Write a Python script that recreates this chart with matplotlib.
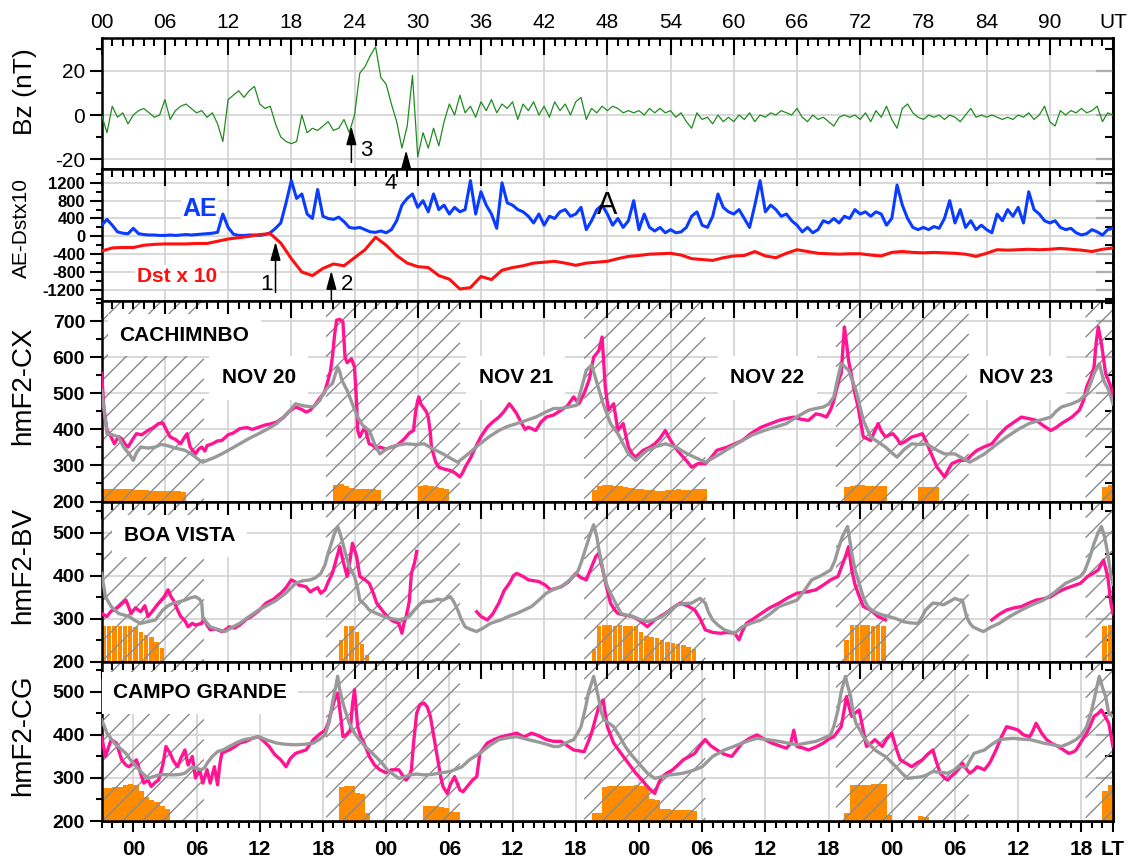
import numpy as np
import matplotlib
matplotlib.use("Agg")
import matplotlib.pyplot as plt
from matplotlib.ticker import MultipleLocator
from matplotlib.collections import LineCollection

plt.rcParams['font.family'] = ['Liberation Sans', 'DejaVu Sans']

# ---------------- data (UT hours, 20-24 Nov) ----------------
ut_half = np.arange(0, 96.5, 0.5)
ut_hour = np.arange(0, 97, 1)

bz = [0, -8, 4, -1, 1, -4, 0, 2, 3, 1, -1, 0,
      7, -2, 2, 4, 5, 3, 1, 2, -1, 1, -4, -12,
      7, 9, 11, 8, 11, 13, 5, 3, 4, -4, -10, -12,
      -13, -12, 0, -8, -6, -7, -5, -3, -7, -6, -2, -8,
      0, 19, 22, 27, 31, 17, 14, 5, -3, -15, -5, 18,
      -19, -8, -15, -6, -14, -3, 5, 0, 9, 1, 4, -1,
      6, 2, 7, 1, 5, 3, 6, -2, 5, 2, 6, 0,
      4, -1, 6, 2, 5, 0, 6, 8, -2, 3, 1, 4,
      2, 4, 3, 1, 2, 1, 2, 0, 3, 1, 3, 1,
      2, -1, 1, -3, -6, 1, -2, -1, -4, 0, -3, -1,
      -3, 0, -2, 1, -3, 0, -1, 1, 0, 2, 1, 0,
      3, -1, -3, 0, -2, -1, -3, -5, -1, 0, -1, 0,
      -2, 1, -3, 2, -1, 4, -2, -6, 3, 5, 1, -1,
      -2, 0, -1, 0, -2, 0, -1, -3, 0, 3, -1, 0,
      -1, 0, -1, -2, -1, -2, 0, -1, 1, -2, 0, 4,
      -3, -5, 2, 0, 2, 1, 3, 1, 2, 4, -3, 1,
      0]

ae = [250, 380, 250, 100, 70, 60, 180, 60, 40, 30, 30, 20,
      20, 30, 20, 30, 40, 30, 40, 50, 60, 70, 90, 500,
      200, 50, 20, 20, 30, 30, 20, 40, 80, 180, 300, 750,
      1250, 850, 950, 500, 400, 1050, 450, 400, 380, 430, 330, 200,
      180, 200, 150, 100, 90, 120, 80, 150, 350, 700, 850, 950,
      650, 800, 550, 950, 600, 700, 500, 650, 550, 600, 1250, 500,
      1000, 700, 500, 180, 1200, 750, 700, 600, 550, 450, 300, 500,
      250, 450, 400, 550, 600, 450, 500, 650, 150, 350, 600, 700,
      500, 250, 400, 200, 350, 800, 150, 500, 200, 120, 200, 80,
      150, 80, 100, 200, 450, 550, 250, 200, 450, 950, 650, 550,
      500, 600, 400, 200, 700, 1250, 550, 700, 600, 450, 500, 350,
      250, 100, 200, 80, 150, 350, 300, 400, 300, 450, 400, 600,
      500, 550, 450, 550, 500, 250, 400, 1150, 700, 400, 200, 150,
      200, 150, 220, 180, 400, 800, 300, 600, 200, 350, 150, 250,
      150, 80, 500, 350, 600, 450, 650, 300, 1000, 600, 500, 350,
      300, 350, 200, 150, 180, 80, 30, 60, 150, 100, 30, 150,
      180]

dst10 = [-330, -260, -250, -250, -200, -180, -170, -170, -170, -160, -160, -110,
         -60, -30, 0, 40, 60, -150, -500, -800, -880, -720, -620, -660,
         -480, -300, -20, -200, -430, -600, -680, -700, -880, -960, -1180, -1150,
         -900, -970, -760, -700, -660, -600, -580, -560, -600, -650, -600, -580,
         -560, -500, -450, -430, -400, -390, -380, -420, -500, -520, -540, -480,
         -440, -430, -340, -440, -480, -380, -300, -340, -380, -390, -400, -390,
         -390, -420, -440, -360, -340, -360, -370, -360, -370, -380, -400, -450,
         -380, -300, -310, -300, -290, -300, -290, -270, -290, -310, -340, -290,
         -260]

cx_obs = [(0, 555), (0.2, 462), (0.5, 397), (0.9, 379), (1.2, 360), (1.6, 380), (1.9, 374),
          (2.2, 360), (2.5, 351), (3.0, 375), (3.3, 388), (3.8, 385), (4.4, 397), (4.9, 405),
          (5.4, 416), (5.8, 418), (6.2, 395), (6.5, 379), (7.0, 372), (7.5, 360), (7.8, 375),
          (8.1, 388), (8.4, 351), (8.9, 332), (9.2, 345), (9.5, 351), (9.8, 340), (10.0, 355),
          (10.5, 360), (11.0, 368), (11.4, 369), (12.0, 385), (12.5, 390), (13.1, 402),
          (13.8, 405), (14.3, 400), (14.9, 406), (15.5, 412), (16.0, 415), (16.6, 420),
          (17.2, 432), (17.8, 450), (18.4, 462), (19.0, 455), (19.4, 448), (19.8, 453),
          (20.3, 470), (20.8, 490), (21.1, 500), (21.4, 527), (21.7, 560), (21.9, 600),
          (22.1, 660), (22.3, 703), (22.6, 705), (22.9, 698), (23.1, 600), (23.3, 585),
          (23.5, 590), (23.7, 596), (24.0, 573), (24.2, 470), (24.3, 397), (24.5, 379),
          (24.7, 392), (25.0, 406), (25.2, 380), (25.4, 360), (25.8, 355), (26.1, 345),
          (26.4, 351), (27.0, 345), (27.5, 351), (28.0, 355), (28.2, 360), (28.6, 370),
          (28.9, 379), (29.2, 390), (29.6, 397), (29.8, 450), (30.0, 480), (30.1, 490),
          (30.3, 470), (30.5, 462), (30.8, 450), (31.0, 434), (31.2, 390), (31.3, 351),
          (31.7, 310), (32.0, 295), (32.5, 290), (33.1, 286), (33.5, 280), (34.0, 268),
          (34.3, 282), (34.5, 295), (35.0, 320), (35.5, 351), (36.0, 380), (36.6, 406),
          (37.1, 420), (37.7, 434), (38.2, 450), (38.7, 471), (39.0, 460), (39.4, 443),
          (39.8, 420), (40.2, 400), (40.5, 406), (41.2, 397), (41.7, 420), (42.2, 434),
          (42.9, 440), (43.6, 453), (44.2, 465), (44.8, 490), (45.3, 471), (45.8, 500),
          (46.3, 540), (46.7, 600), (47.2, 619), (47.5, 656), (47.8, 518), (48.1, 453),
          (48.6, 471), (49.0, 397), (49.5, 416), (50.0, 351), (50.4, 330), (50.7, 323),
          (51.4, 342), (52.0, 350), (52.5, 360), (53.0, 375), (53.5, 397), (53.8, 380),
          (54.2, 360), (54.7, 340), (55.2, 323), (55.6, 310), (56.0, 295), (56.6, 305),
          (57.3, 305), (57.8, 320), (58.4, 342), (59.4, 351), (60.1, 360), (60.8, 369),
          (61.7, 390), (62.6, 406), (63.4, 415), (64.3, 425), (65.0, 430), (65.7, 434),
          (66.4, 428), (67.1, 425), (67.8, 443), (68.3, 440), (68.8, 434), (69.2, 455),
          (69.5, 480), (70.0, 540), (70.2, 555), (70.5, 684), (70.7, 640), (70.9, 591),
          (71.2, 545), (71.5, 500), (71.8, 462), (72.3, 379), (72.6, 375), (73.0, 369),
          (73.3, 390), (73.7, 416), (74.0, 395), (74.4, 379), (74.8, 385), (75.1, 388),
          (75.5, 375), (75.8, 360), (76.2, 365), (76.9, 379), (77.4, 383), (77.9, 388),
          (78.3, 365), (78.6, 342), (79.0, 315), (79.3, 295), (79.7, 280), (80.0, 268),
          (80.3, 285), (80.7, 305), (81.4, 314), (82.1, 314), (82.6, 330), (83.1, 342),
          (83.8, 352), (84.5, 360), (85.2, 385), (85.9, 406), (86.6, 420), (87.3, 434),
          (88.0, 430), (88.7, 425), (89.4, 410), (90.1, 397), (90.6, 405), (91.1, 416),
          (91.6, 425), (92.1, 434), (92.8, 453), (93.2, 480), (93.5, 518), (93.9, 545),
          (94.2, 573), (94.4, 640), (94.6, 684), (94.9, 638), (95.3, 555), (95.8, 518),
          (96.0, 480)]

cx_ref = [(0, 508), (0.2, 462), (0.5, 388), (1.0, 385), (1.6, 379), (2.1, 350), (2.6, 332),
          (3.0, 314), (3.3, 335), (3.7, 351), (4.4, 348), (5.1, 351), (5.6, 358), (6.1, 356),
          (7.0, 348), (7.9, 342), (8.6, 330), (9.3, 314), (9.6, 309), (10.0, 314), (10.7, 322),
          (11.4, 332), (12.2, 345), (13.1, 360), (14.0, 375), (14.9, 388), (15.8, 402),
          (16.6, 416), (17.5, 440), (18.4, 471), (19.2, 465), (20.1, 462), (20.7, 480),
          (21.2, 508), (21.6, 520), (21.9, 527), (22.2, 555), (22.4, 573), (22.6, 560),
          (22.8, 536), (23.3, 508), (23.8, 470), (24.3, 434), (24.8, 410), (25.4, 397),
          (25.9, 360), (26.4, 332), (27.0, 345), (27.5, 351), (28.2, 357), (28.9, 360),
          (29.8, 358), (30.6, 360), (31.5, 345), (32.4, 332), (33.1, 320), (33.8, 309),
          (34.5, 325), (35.2, 342), (35.9, 360), (36.8, 380), (37.7, 397), (38.5, 408),
          (39.4, 416), (40.3, 425), (41.2, 434), (42.0, 446), (42.9, 458), (43.6, 458),
          (44.3, 462), (45.1, 467), (45.6, 520), (46.0, 564), (46.5, 578), (46.9, 540),
          (47.3, 500), (47.6, 471), (48.3, 416), (49.0, 388), (49.5, 360), (50.0, 332),
          (50.7, 314), (51.3, 330), (51.8, 342), (52.6, 352), (53.5, 360), (54.5, 351),
          (55.6, 332), (56.5, 320), (57.3, 309), (58.0, 320), (58.7, 332), (59.7, 350),
          (60.8, 369), (61.8, 385), (62.9, 397), (64.0, 407), (65.0, 416), (66.0, 435),
          (67.1, 453), (67.8, 458), (68.5, 462), (69.0, 470), (69.5, 490), (69.9, 545),
          (70.2, 582), (70.5, 575), (70.9, 564), (71.2, 540), (71.6, 508), (72.0, 460),
          (72.3, 425), (73.0, 379), (73.7, 365), (74.4, 351), (75.0, 335), (75.5, 323),
          (76.2, 345), (76.9, 360), (77.6, 358), (78.3, 360), (79.1, 345), (80.0, 332),
          (81.0, 332), (81.7, 320), (82.4, 309), (83.1, 320), (83.8, 332), (84.8, 355),
          (85.9, 379), (87.0, 400), (88.0, 416), (89.0, 425), (90.1, 434), (90.6, 450),
          (91.1, 462), (92.0, 470), (92.8, 480), (93.5, 499), (93.9, 530), (94.2, 555),
          (94.7, 582), (95.1, 536), (95.6, 508), (96.0, 471)]

nan = float('nan')
bv_obs = [(0, 312), (0.5, 305), (0.9, 318), (1.2, 320), (1.7, 330), (2.3, 343), (2.8, 312),
          (3.2, 325), (3.7, 316), (4.1, 330), (4.4, 305), (4.9, 320), (5.4, 336), (5.9, 350),
          (6.3, 367), (6.6, 350), (6.8, 343), (7.2, 320), (7.5, 305), (7.9, 295), (8.2, 281),
          (8.6, 289), (8.9, 285), (9.5, 289), (9.7, 300), (10.0, 285), (10.3, 274), (10.8, 276),
          (11.4, 270), (11.8, 275), (12.1, 281), (12.6, 278), (13.1, 285), (13.7, 298),
          (14.2, 305), (14.9, 318), (15.6, 336), (16.3, 345), (17.0, 359), (17.5, 372),
          (18.0, 390), (18.4, 385), (18.7, 378), (19.4, 374), (19.8, 362), (20.1, 367),
          (20.5, 372), (20.8, 359), (21.2, 367), (21.5, 385), (21.9, 405), (22.3, 440),
          (22.6, 467), (22.9, 435), (23.3, 398), (23.6, 440), (23.8, 475), (24.0, 460),
          (24.2, 444), (24.5, 398), (25.0, 390), (25.4, 382), (25.8, 358), (26.1, 336),
          (26.6, 320), (27.1, 305), (27.6, 295), (28.2, 289), (28.5, 266), (28.7, 290),
          (28.9, 305), (29.2, 340), (29.4, 405), (29.7, 430), (29.9, 456), (29.95, nan),
          (35.6, 316), (36.0, 305), (36.6, 297), (37.1, 310), (37.7, 336), (38.2, 365),
          (38.7, 382), (39.1, 400), (39.4, 405), (40.0, 398), (40.5, 390), (41.0, 388),
          (41.5, 386), (42.1, 378), (42.6, 367), (43.1, 370), (43.6, 374), (44.3, 385),
          (45.0, 405), (45.5, 395), (46.0, 390), (46.5, 420), (46.9, 444), (47.2, 452),
          (47.5, 420), (47.7, 398), (48.0, 365), (48.3, 336), (48.7, 320), (49.0, 312),
          (49.7, 308), (50.4, 305), (51.1, 295), (51.8, 281), (52.2, 290), (52.5, 297),
          (53.0, 305), (53.5, 312), (54.2, 325), (54.9, 336), (55.6, 330), (56.3, 320),
          (56.8, 300), (57.3, 274), (58.0, 268), (58.7, 266), (59.4, 268), (60.1, 266),
          (60.5, 251), (60.8, 270), (61.2, 289), (61.9, 300), (62.6, 312), (63.4, 325),
          (64.3, 336), (65.1, 348), (66.0, 359), (66.9, 362), (67.8, 367), (68.5, 378),
          (69.2, 390), (69.9, 398), (70.3, 425), (70.6, 444), (70.9, 467), (71.2, 413),
          (71.5, 380), (71.8, 359), (72.3, 328), (73.0, 320), (73.7, 305), (74.4, 297),
          (74.45, nan), (84.5, 297), (85.2, 310), (85.9, 320), (86.6, 325), (87.3, 328),
          (88.0, 336), (88.7, 343), (89.4, 346), (90.1, 351), (90.8, 362), (91.5, 370),
          (92.2, 376), (92.9, 382), (93.6, 398), (94.1, 405), (94.6, 413), (95.1, 436),
          (95.5, 398), (95.8, 336), (96.0, 312)]

bv_ref = [(0, 405), (0.35, 351), (0.9, 328), (1.6, 312), (2.6, 305), (3.2, 295), (3.7, 289),
          (4.4, 293), (5.1, 297), (5.5, 310), (5.8, 320), (6.3, 330), (6.8, 336), (7.5, 340),
          (7.9, 343), (8.4, 348), (8.9, 351), (9.3, 345), (9.5, 336), (9.6, 301), (10.0, 290),
          (10.3, 281), (11.0, 275), (11.7, 270), (12.4, 280), (13.1, 289), (14.0, 305),
          (14.9, 320), (15.8, 332), (16.6, 343), (17.5, 360), (18.4, 382), (19.1, 388),
          (19.8, 390), (20.3, 395), (20.8, 405), (21.2, 425), (21.5, 452), (21.8, 475),
          (22.1, 498), (22.4, 514), (22.6, 500), (22.8, 483), (23.1, 455), (23.5, 421),
          (24.0, 398), (24.3, 370), (24.5, 343), (25.0, 332), (25.4, 320), (26.1, 312),
          (26.8, 305), (27.5, 300), (28.2, 297), (28.7, 300), (29.2, 305), (29.7, 320),
          (30.3, 336), (30.8, 340), (31.3, 340), (31.9, 345), (32.4, 343), (32.8, 348),
          (33.1, 351), (33.4, 340), (33.8, 320), (34.1, 300), (34.5, 281), (35.0, 275),
          (35.6, 270), (36.2, 278), (36.9, 289), (37.4, 293), (37.9, 297), (38.6, 305),
          (39.4, 312), (40.1, 320), (40.8, 328), (41.5, 343), (42.2, 359), (42.9, 368),
          (43.6, 374), (44.2, 385), (44.8, 398), (45.2, 410), (45.5, 429), (45.9, 460),
          (46.2, 483), (46.5, 505), (46.7, 518), (47.0, 490), (47.2, 460), (47.5, 425),
          (47.7, 398), (48.0, 375), (48.3, 359), (48.8, 335), (49.3, 312), (49.8, 308),
          (50.4, 305), (51.1, 298), (51.8, 293), (52.5, 298), (53.2, 305), (53.9, 318),
          (54.6, 332), (55.3, 335), (56.0, 336), (56.4, 342), (56.8, 347), (57.3, 336),
          (57.6, 315), (58.0, 297), (58.5, 285), (59.1, 274), (59.6, 270), (60.1, 266),
          (60.8, 281), (61.7, 290), (62.6, 297), (63.5, 312), (64.3, 328), (65.2, 336),
          (66.0, 343), (66.7, 365), (67.4, 390), (68.3, 400), (69.2, 413), (69.6, 435),
          (69.9, 460), (70.3, 490), (70.8, 514), (71.0, 485), (71.2, 452), (71.5, 415),
          (71.9, 382), (72.3, 350), (72.7, 328), (73.2, 318), (73.7, 312), (74.2, 308),
          (74.7, 305), (75.4, 300), (76.1, 293), (76.8, 290), (77.5, 289), (77.9, 305),
          (78.2, 320), (78.9, 336), (79.4, 335), (79.9, 332), (80.5, 340), (81.0, 347),
          (81.4, 343), (81.7, 343), (82.1, 305), (82.4, 290), (82.7, 281), (83.2, 275),
          (83.7, 270), (84.4, 280), (85.2, 289), (86.2, 305), (87.3, 320), (88.3, 332),
          (89.4, 343), (90.4, 360), (91.5, 382), (92.2, 390), (92.9, 398), (93.3, 410),
          (93.6, 429), (93.9, 450), (94.2, 475), (94.6, 500), (94.9, 514), (95.2, 490),
          (95.5, 452), (95.8, 400), (96.0, 380)]

cg_obs = [(0, 396), (0.35, 350), (0.9, 389), (1.4, 381), (1.9, 342), (2.3, 330), (2.6, 326),
          (3.0, 335), (3.3, 342), (3.7, 310), (4.0, 288), (4.4, 295), (4.7, 280), (5.1, 290),
          (5.4, 295), (5.8, 330), (6.1, 373), (6.5, 357), (6.8, 340), (7.2, 326), (7.5, 345),
          (7.9, 365), (8.2, 330), (8.6, 350), (8.9, 300), (9.3, 319), (9.6, 288), (10.0, 319),
          (10.3, 288), (10.7, 326), (11.0, 284), (11.2, 330), (11.4, 357), (11.8, 362),
          (12.1, 365), (12.6, 372), (13.1, 381), (13.7, 385), (14.3, 392), (14.9, 396),
          (15.4, 385), (15.9, 373), (16.4, 355), (17.0, 342), (17.5, 326), (17.9, 345),
          (18.4, 357), (19.0, 362), (19.4, 365), (20.1, 389), (20.8, 404), (21.2, 410),
          (21.5, 427), (21.8, 455), (22.1, 481), (22.4, 497), (22.7, 440), (22.9, 396),
          (23.2, 400), (23.6, 411), (23.8, 470), (24.0, 505), (24.3, 419), (24.6, 395),
          (24.9, 381), (25.4, 350), (25.9, 330), (26.4, 319), (27.0, 312), (27.5, 319),
          (28.2, 319), (28.6, 305), (28.9, 295), (29.2, 305), (29.4, 319), (29.6, 380),
          (29.9, 450), (30.2, 470), (30.6, 474), (30.9, 465), (31.2, 443), (31.5, 400),
          (31.9, 342), (32.2, 300), (32.4, 280), (32.8, 264), (33.1, 285), (33.5, 303),
          (34.0, 272), (34.3, 268), (34.7, 280), (35.2, 295), (35.6, 303), (35.9, 357),
          (36.6, 381), (37.3, 390), (38.0, 396), (38.7, 400), (39.4, 404), (40.1, 395),
          (40.8, 404), (41.5, 398), (42.2, 389), (42.9, 385), (43.6, 385), (44.2, 375),
          (44.8, 365), (45.3, 363), (45.8, 361), (46.2, 385), (46.5, 404), (46.9, 440),
          (47.2, 466), (47.6, 481), (48.0, 419), (48.3, 400), (48.6, 381), (49.3, 357),
          (50.0, 334), (50.7, 311), (51.3, 295), (51.8, 280), (52.2, 270), (52.5, 264),
          (52.9, 290), (53.2, 303), (53.7, 312), (54.2, 319), (54.7, 330), (55.2, 342),
          (55.8, 350), (56.3, 357), (56.8, 375), (57.3, 389), (57.8, 375), (58.4, 365),
          (59.1, 355), (59.8, 350), (60.3, 365), (60.8, 381), (61.5, 392), (62.2, 400),
          (62.9, 390), (63.6, 381), (64.3, 375), (65.0, 369), (65.4, 380), (65.7, 411),
          (66.0, 373), (66.5, 370), (67.1, 365), (67.8, 372), (68.5, 381), (69.0, 390),
          (69.5, 396), (70.2, 419), (70.5, 460), (70.7, 489), (71.0, 460), (71.2, 443),
          (71.5, 450), (71.9, 458), (72.3, 410), (72.6, 373), (73.0, 380), (73.4, 389),
          (73.8, 380), (74.1, 373), (74.5, 390), (75.0, 404), (75.4, 370), (75.8, 342),
          (76.3, 335), (76.9, 326), (77.4, 335), (77.9, 342), (78.4, 355), (78.9, 365),
          (79.2, 340), (79.6, 311), (80.0, 300), (80.3, 295), (80.7, 305), (81.0, 311),
          (81.4, 322), (81.7, 334), (82.1, 320), (82.4, 311), (82.8, 318), (83.1, 326),
          (83.8, 319), (84.3, 335), (84.9, 365), (85.4, 395), (85.9, 419), (86.5, 415),
          (87.0, 411), (87.5, 400), (88.1, 396), (88.4, 410), (88.7, 427), (89.2, 405),
          (89.7, 389), (90.2, 380), (90.8, 373), (91.3, 365), (91.8, 357), (92.2, 360),
          (92.5, 365), (93.0, 385), (93.5, 404), (93.9, 425), (94.2, 443), (94.6, 450),
          (94.9, 458), (95.3, 440), (95.6, 427), (96.0, 373)]

cg_ref = [(0, 435), (0.5, 404), (1.2, 381), (1.8, 368), (2.3, 357), (2.8, 340), (3.3, 326),
          (3.9, 310), (4.4, 299), (4.9, 303), (5.4, 307), (6.1, 308), (6.8, 307), (7.4, 308),
          (7.9, 311), (8.6, 326), (9.0, 322), (9.5, 319), (9.8, 325), (10.0, 334), (10.5, 350),
          (11.0, 361), (11.6, 366), (12.1, 373), (12.8, 382), (13.5, 389), (14.2, 392),
          (14.9, 396), (15.7, 388), (16.6, 381), (17.5, 378), (18.4, 377), (19.2, 378),
          (20.1, 381), (20.7, 390), (21.2, 400), (21.6, 430), (21.9, 474), (22.2, 510),
          (22.4, 536), (22.6, 505), (22.9, 474), (23.2, 450), (23.5, 427), (24.0, 404),
          (24.5, 388), (25.0, 373), (25.5, 362), (26.0, 350), (26.6, 335), (27.1, 319),
          (27.7, 308), (28.2, 299), (28.7, 302), (29.2, 307), (29.9, 309), (30.6, 307),
          (31.3, 308), (32.0, 311), (32.5, 313), (33.1, 315), (33.8, 322), (34.2, 326),
          (34.9, 342), (35.4, 350), (35.9, 357), (36.8, 375), (37.7, 389), (38.5, 393),
          (39.4, 396), (40.3, 390), (41.2, 385), (42.0, 380), (42.9, 373), (43.4, 373),
          (44.1, 382), (44.8, 389), (45.2, 405), (45.5, 419), (45.9, 460), (46.2, 497),
          (46.5, 520), (46.7, 536), (46.9, 515), (47.2, 481), (47.4, 455), (47.7, 435),
          (48.1, 428), (48.6, 419), (49.2, 395), (49.7, 373), (50.2, 356), (50.7, 342),
          (51.3, 325), (51.8, 311), (52.5, 299), (53.2, 303), (53.9, 307), (54.6, 309),
          (55.2, 311), (55.8, 315), (56.3, 319), (57.0, 326), (57.5, 338), (58.0, 350),
          (58.6, 358), (59.1, 365), (60.0, 373), (60.8, 381), (61.5, 387), (62.2, 392),
          (63.2, 389), (64.3, 385), (65.1, 381), (66.0, 377), (66.9, 381), (67.8, 385),
          (68.5, 392), (69.2, 400), (69.5, 420), (69.9, 458), (70.2, 500), (70.6, 536),
          (70.8, 515), (71.1, 489), (71.3, 455), (71.6, 427), (72.0, 410), (72.3, 396),
          (72.8, 380), (73.4, 365), (73.9, 357), (74.4, 350), (74.9, 338), (75.4, 326),
          (76.0, 310), (76.5, 299), (77.2, 301), (77.9, 303), (78.4, 308), (78.9, 315),
          (79.6, 313), (80.3, 311), (80.9, 318), (81.4, 326), (82.1, 326), (82.4, 340),
          (82.8, 357), (83.3, 361), (83.8, 365), (84.5, 378), (85.2, 389), (85.9, 391),
          (86.6, 392), (87.4, 390), (88.1, 389), (88.8, 385), (89.4, 381), (90.3, 377),
          (91.1, 373), (91.8, 380), (92.5, 389), (93.0, 400), (93.5, 419), (93.9, 450),
          (94.2, 481), (94.5, 515), (94.7, 536), (95.0, 510), (95.3, 489), (95.6, 450),
          (96.0, 443)]

# spread-F occurrence bars (start hour, top value in km-axis units)
cx_sf = [(0, 236), (0.5, 236), (1, 234), (1.5, 235), (2, 236), (2.5, 234), (3, 233), (3.5, 232),
         (4, 231), (4.5, 230), (5, 230), (5.5, 229), (6, 230), (6.5, 229), (7, 228), (7.5, 226),
         (22, 245), (22.5, 248), (23, 242), (23.5, 238), (24, 236), (24.5, 235), (25, 234),
         (25.5, 234), (26, 233),
         (30, 244), (30.5, 246), (31, 244), (31.5, 240), (32, 238), (32.5, 236),
         (46.5, 232), (47, 244), (47.5, 245), (48, 245), (48.5, 244), (49, 242), (49.5, 240),
         (50, 238), (50.5, 236), (51, 234), (51.5, 232), (52, 231), (52.5, 230), (53, 230),
         (53.5, 231), (54, 232), (54.5, 234), (55, 233), (55.5, 232), (56, 234), (56.5, 235),
         (57, 235),
         (70.5, 240), (71, 244), (71.5, 245), (72, 245), (72.5, 244), (73, 244), (73.5, 243),
         (74, 243),
         (77.5, 240), (78, 241), (78.5, 240), (79, 240),
         (95, 240), (95.5, 246)]

bv_sf = [(0, 283), (0.5, 284), (1, 283), (1.5, 282), (2, 283), (2.5, 284), (3, 281), (3.5, 270),
         (4, 262), (4.5, 258), (5, 245), (5.5, 232),
         (22.5, 250), (23, 282), (23.5, 283), (24, 268), (24.5, 240), (25, 215),
         (46.5, 230), (47, 284), (47.5, 285), (48, 285), (48.5, 284), (49, 285), (49.5, 284),
         (50, 283), (50.5, 284), (51, 270), (51.5, 260), (52, 258), (52.5, 255), (53, 250),
         (53.5, 246), (54, 243), (54.5, 240), (55, 238), (55.5, 234), (56, 230),
         (70.5, 250), (71, 285), (71.5, 285), (72, 285), (72.5, 285), (73, 284), (73.5, 285),
         (74, 284),
         (95, 283), (95.5, 285)]

cg_sf = [(0, 277), (0.5, 277), (1, 278), (1.5, 280), (2, 283), (2.5, 286), (3, 283), (3.5, 270),
         (4, 255), (4.5, 249), (5, 245), (5.5, 235), (6, 228),
         (22.5, 280), (23, 282), (23.5, 281), (24, 266), (24.5, 262), (25, 219),
         (30.5, 234), (31, 235), (31.5, 234), (32, 233), (32.5, 230), (33, 222), (33.5, 222),
         (46.5, 218), (47, 218), (47.5, 280), (48, 281), (48.5, 281), (49, 282), (49.5, 281),
         (50, 282), (50.5, 283), (51, 282), (51.5, 283), (52, 250), (52.5, 249), (53, 228),
         (53.5, 227), (54, 226), (54.5, 226), (55, 225), (55.5, 225), (56, 224),
         (70.5, 218), (71, 283), (71.5, 284), (72, 284), (72.5, 284), (73, 285), (73.5, 285),
         (74, 285), (74.5, 215),
         (77.5, 212), (78, 210),
         (95, 270), (95.5, 284)]

night_start = [0, 21.3, 45.8, 69.7, 93.4]
night_end = [9.7, 34.0, 57.3, 82.3, 96]

ut_labels = ['00', '06', '12', '18', '24', '30', '36', '42', '48', '54', '60', '66',
             '72', '78', '84', '90', 'UT']
lt_labels = ['00', '06', '12', '18'] * 4 + ['LT']

# ---------------- figure ----------------
W, H = 1133, 860
fig = plt.figure(figsize=(W / 100, H / 100), dpi=100)
X0, X1 = 101.7, 1113


def rect(top, bottom):
    return [X0 / W, 1 - bottom / H, (X1 - X0) / W, (bottom - top) / H]


ax1 = fig.add_axes(rect(37.5, 169))
ax2 = fig.add_axes(rect(169, 301))
ax3 = fig.add_axes(rect(301, 501.5))
ax4 = fig.add_axes(rect(501.5, 661.7))
ax5 = fig.add_axes(rect(661.7, 821))

GRID = '#d2d2d2'
ut_grid = np.arange(6, 96, 6)
lt_grid = np.arange(3, 96, 6)


def setup(ax, ylim, yticks, ylabels, yminor, xgrid, bold=True, ysize=14):
    ax.set_xlim(0, 96)
    ax.set_ylim(*ylim)
    for s in ax.spines.values():
        s.set_linewidth(1.8)
    for x in xgrid:
        ax.axvline(x, color=GRID, lw=1.2, zorder=0.3)
    for y in yticks:
        ax.axhline(y, color=GRID, lw=1.2, zorder=0.3)
    ax.set_xticks(np.arange(0, 97, 6))
    ax.xaxis.set_minor_locator(MultipleLocator(1))
    ax.tick_params(axis='x', which='both', direction='in', top=True, bottom=False,
                   labeltop=False, labelbottom=False, width=1.5)
    ax.tick_params(axis='x', which='major', length=12)
    ax.tick_params(axis='x', which='minor', length=6)
    ax.set_yticks(yticks, ylabels, fontsize=ysize, fontweight='bold' if bold else 'normal')
    ax.yaxis.set_minor_locator(MultipleLocator(yminor))
    ax.tick_params(axis='y', which='both', direction='out', left=True, right=False,
                   width=1.5, pad=3)
    ax.tick_params(axis='y', which='major', length=9)
    ax.tick_params(axis='y', which='minor', length=4)
    sec = ax.secondary_yaxis('right')
    sec.set_yticks(yticks)
    sec.yaxis.set_minor_locator(MultipleLocator(yminor))
    sec.tick_params(axis='y', which='both', direction='in', labelright=False, width=1.5)
    sec.tick_params(axis='y', which='major', length=12)
    sec.tick_params(axis='y', which='minor', length=6)
    sec.spines['right'].set_linewidth(1.8)


# --- panel 1: Bz ---
setup(ax1, (-24.5, 35.2), [-20, 0, 20], ['-20', '0', '20'], 10, ut_grid, bold=False, ysize=15)
ax1.tick_params(axis='x', labeltop=True, labelsize=15, pad=4)
ax1.set_xticks(np.arange(0, 97, 6), ut_labels)
ax1.plot(ut_half, bz, color='#1f8c1f', lw=0.9, zorder=3)

# --- panel 2: AE and Dst x 10 ---
ae_ticks = [-1200, -800, -400, 0, 400, 800, 1200]
setup(ax2, (-1450, 1510), ae_ticks, [str(v) for v in ae_ticks], 200, ut_grid, ysize=12)
ax2.plot(ut_half, ae, color='#0a3cff', lw=2.2, zorder=3)
ax2.plot(ut_hour, dst10, color='#ff1010', lw=2.2, zorder=4)
ax2.text(9.3, 617, 'AE', color='#0a3cff', fontsize=18, fontweight='bold',
         ha='center', va='center', zorder=6,
         bbox=dict(facecolor='white', edgecolor='none', pad=1))
ax2.text(7.2, -908, 'Dst x 10', color='#ff1010', fontsize=15, fontweight='bold',
         ha='center', va='center', zorder=6,
         bbox=dict(facecolor='white', edgecolor='none', pad=2))
ax2.text(48, 670, 'A', fontsize=22, ha='center', va='center', zorder=6)

arrow = dict(arrowstyle='-|>,head_length=0.8,head_width=0.22', color='k', lw=1.1,
             mutation_scale=14, shrinkA=0, shrinkB=0)
ax2.annotate('', xy=(16.5, -120), xytext=(16.5, -1260), arrowprops=arrow, zorder=7)
ax2.text(15.6, -1090, '1', fontsize=16, ha='center', va='center')
ax2.annotate('', xy=(21.8, -770), xytext=(21.8, -1450), arrowprops=arrow,
             annotation_clip=False, zorder=7)
ax2.text(23.3, -1090, '2', fontsize=16, ha='center', va='center')
ax1.annotate('', xy=(23.7, -5), xytext=(23.7, -21.5), arrowprops=arrow, zorder=7)
ax1.text(25.1, -16, '3', fontsize=16, ha='center', va='center')
ax1.annotate('', xy=(28.9, -16), xytext=(28.9, 1000), textcoords=ax2.transData,
             arrowprops=arrow, annotation_clip=False, zorder=7)
ax2.text(27.4, 1190, '4', fontsize=16, ha='center', va='center')


def hatch_nights(ax, h_px, gap_px=20):
    # 45-degree diagonal lines (axes fractions), cut to each night-time span
    w_px = X1 - X0
    run = h_px / w_px
    us = np.arange(-run, 1 + gap_px / w_px, gap_px / w_px)
    segs = []
    for s, e in zip(night_start, night_end):
        a, b = s / 96, e / 96
        for u in us:
            y1 = max(0.0, (a - u) / run)
            y2 = min(1.0, (b - u) / run)
            if y2 > y1:
                segs.append([(u + run * y1, y1), (u + run * y2, y2)])
    lc = LineCollection(segs, colors='#8a8a8a', linewidths=1.0,
                        transform=ax.transAxes, zorder=1.5)
    ax.add_collection(lc, autolim=False)


# --- hmF2 panels ---
def hm_panel(ax, ylim, yticks, xgrid, obs, ref, sf, bar_w, name, name_xy, h_px):
    setup(ax, ylim, yticks, [str(v) for v in yticks], 50, xgrid)
    st = [p[0] for p in sf]
    sh = [p[1] - 200 for p in sf]
    ax.bar(st, sh, width=bar_w, bottom=200, align='edge', color='#ff8c00',
           linewidth=0, zorder=1)
    hatch_nights(ax, h_px)
    ax.plot([p[0] for p in obs], [p[1] for p in obs], color='#ff1493', lw=2.4, zorder=3)
    ax.plot([p[0] for p in ref], [p[1] for p in ref], color='#999999', lw=2.4, zorder=4)
    ax.text(name_xy[0], name_xy[1], name, fontsize=15, fontweight='bold', ha='left',
            va='center', zorder=6,
            bbox=dict(facecolor='white', edgecolor='none', boxstyle='square,pad=0.55'))


hm_panel(ax3, (200, 756), [200, 300, 400, 500, 600, 700], ut_grid, cx_obs, cx_ref, cx_sf,
         0.5, 'CACHIMNBO', (1.7, 661), 200.5)
for d, x in zip(['NOV 20', 'NOV 21', 'NOV 22', 'NOV 23'], [14.9, 39.3, 63.2, 86.8]):
    ax3.text(x, 543, d, fontsize=15, fontweight='bold', ha='center', va='center', zorder=6,
             bbox=dict(facecolor='white', edgecolor='none', boxstyle='square,pad=0.6'))

hm_panel(ax4, (200, 572), [200, 300, 400, 500], ut_grid, bv_obs, bv_ref, bv_sf,
         0.42, 'BOA VISTA', (2.1, 492), 160.2)
hm_panel(ax5, (200, 570), [200, 300, 400, 500], lt_grid, cg_obs, cg_ref, cg_sf,
         0.5, 'CAMPO GRANDE', (1.1, 498), 159.3)

# bottom local-time axis
sec_lt = ax5.secondary_xaxis('bottom')
sec_lt.set_xticks(list(lt_grid) + [96], lt_labels, fontsize=15, fontweight='bold')
sec_lt.xaxis.set_minor_locator(MultipleLocator(1))
sec_lt.tick_params(axis='x', which='both', direction='out', width=1.5, pad=6)
sec_lt.tick_params(axis='x', which='major', length=8)
sec_lt.tick_params(axis='x', which='minor', length=5)
sec_lt.spines['bottom'].set_linewidth(1.8)

# y labels
for txt, x, y, fs in [('Bz (nT)', 25, 92, 19), ('AE-Dstx10', 21, 228, 15),
                      ('hmF2-CX', 23, 386, 20), ('hmF2-BV', 23, 566, 20),
                      ('hmF2-CG', 23, 735, 20)]:
    fig.text(x / W, 1 - y / H, txt, rotation=90, ha='center', va='center', fontsize=fs)

fig.savefig('out.png', dpi=100)
